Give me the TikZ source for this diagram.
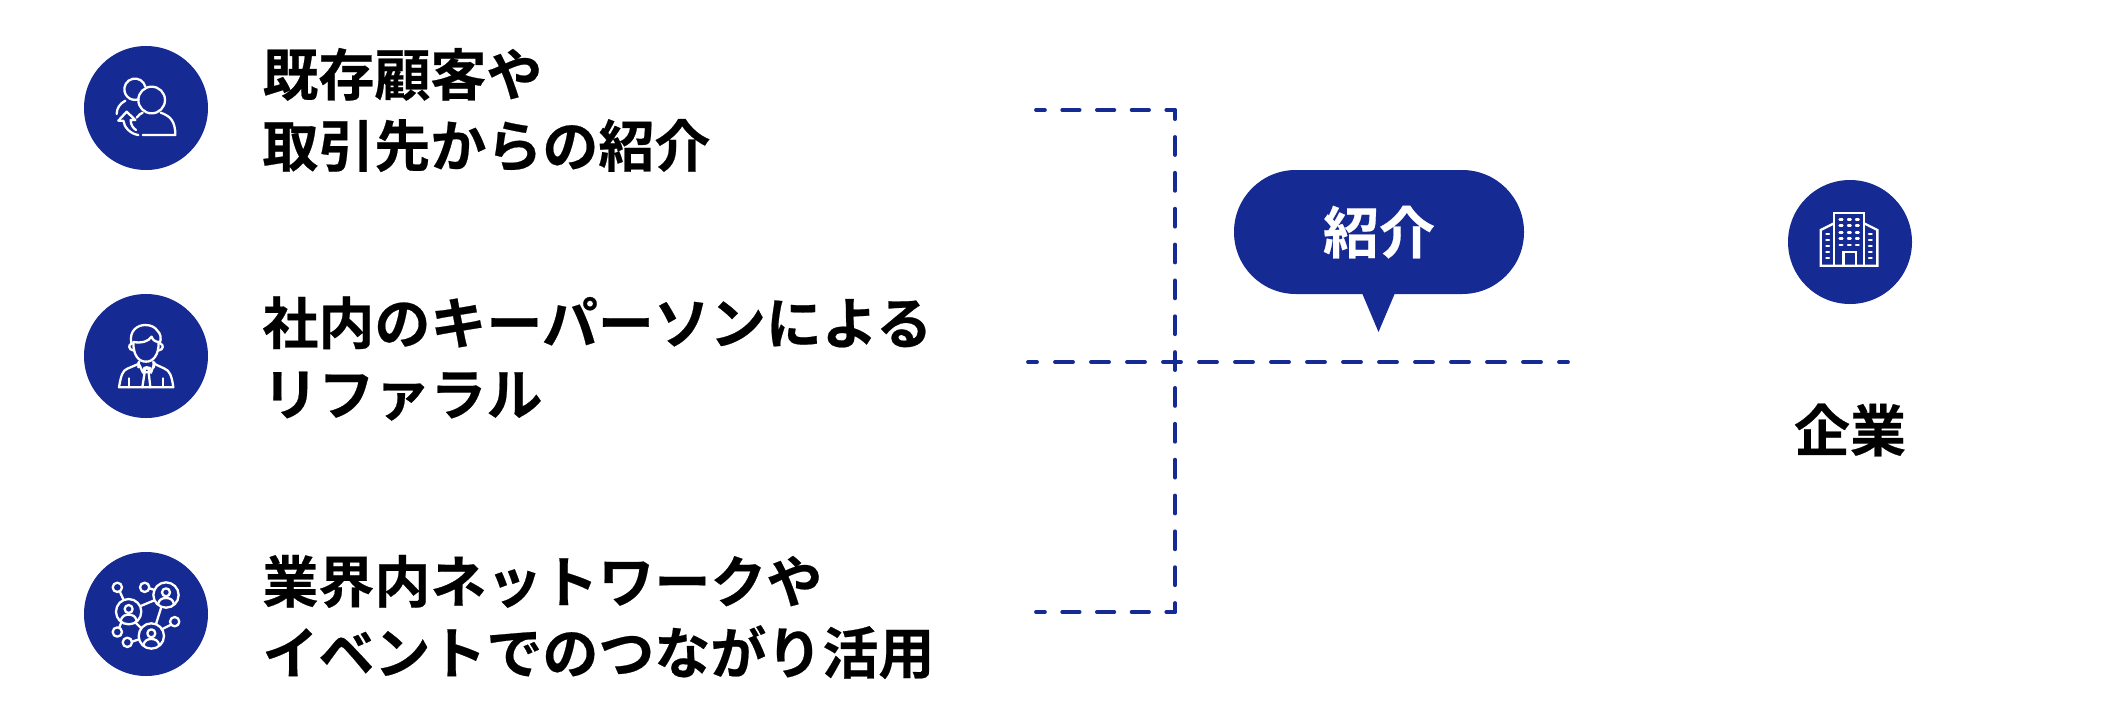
\documentclass[tikz,border=0pt]{standalone}
\usepackage{fontspec}
\setmainfont{Noto Sans CJK JP}[BoldFont={Noto Sans CJK JP Bold},BoldFeatures={FakeBold=0.4}]
\definecolor{navy}{HTML}{162A93}
\tikzset{
  x=0.5pt,y=-0.5pt,
  disc/.style={circle,fill=navy,draw=none,minimum size=62pt,inner sep=0pt},
  lbl/.style={anchor=west,align=left,inner sep=0pt,font=\bfseries\fontsize{28pt}{35.6pt}\selectfont,text=black},
  headlbl/.style={inner sep=0pt,font=\bfseries\fontsize{28pt}{33pt}\selectfont},
  dline/.style={draw=navy,line width=1.9pt,line cap=round},
  dashA/.style={dash pattern=on 9pt off 8.925pt,dash phase=4.5pt},
  dashB/.style={dash pattern=on 8.7pt off 8.65pt,dash phase=4.35pt},
  dashC/.style={dash pattern=on 9pt off 9pt,dash phase=4.5pt},
  ico/.style={draw=white,line width=1.15pt,line cap=round,line join=round},
  win/.style={draw=white,line width=1.2pt,line cap=round},
  zoomA/.style={shift={(70,30)},x=0.16667pt,y=-0.16667pt},
  zoomB/.style={shift={(70,280)},x=0.16667pt,y=-0.16667pt},
  zoomC/.style={shift={(70,540)},x=0.16667pt,y=-0.16667pt},
  zoomD/.style={shift={(1770,170)},x=0.16667pt,y=-0.16667pt},
}
\begin{document}
\begin{tikzpicture}
\useasboundingbox (0,0) rectangle (2104,724);
% discs
\node[disc] (d1) at (146,108) {};
\node[disc] (d2) at (146,356) {};
\node[disc] (d3) at (146,614) {};
\node[disc] (d4) at (1850,242) {};
% labels
\node[lbl] (t1) at (262,110) {既存顧客や\\取引先からの紹介};
\node[lbl] (t2) at (262,358.5) {社内のキーパーソンによる\\リファラル};
\node[lbl] (t3) at (262,617) {業界内ネットワークや\\イベントでのつながり活用};
\node[headlbl] (t4) at (1850,430) {企業};
% bubble
\fill[navy,rounded corners=30.9pt] (1234,170) rectangle (1524,294);
\fill[navy] (1362,293) -- (1395,293) -- (1378.5,332) -- cycle;
\node[headlbl,text=white] (b) at (1379,232) {紹介};
% dashed lines
\coordinate (a1) at (1036,110);
\coordinate (a2) at (1175,110);
\coordinate (a3) at (1175,612);
\coordinate (a4) at (1036,612);
\coordinate (h1) at (1028,362);
\coordinate (h2) at (1568,362);
\draw[dline,dashB] (a2) -- (a1);
\draw[dline,dashB] (a3) -- (a4);
\draw[dline,dashA] (a3) -- (a2);
\draw[dline,dashC] (h1) -- (h2);
% icon 1
\begin{scope}[zoomA]
\draw[ico] (226,170) arc[start angle=-14,end angle=-290,radius=32];
\draw[ico] (245,210) circle[radius=40];
\draw[ico] (200,263) .. controls (205,255) and (212,251) .. (218,248);
\draw[ico] (272,248) .. controls (300,258) and (316,272) .. (316,315) -- (218,315);
\draw[ico] (166,212) .. controls (150,220) and (140,235) .. (140,252);
\draw[ico] (145,272) -- (170,245) -- (196,270) -- (182,270) .. controls (182,285) and (190,295) .. (198,300);
\draw[ico] (145,272) -- (160,272) .. controls (162,292) and (182,312) .. (205,315);
\end{scope}
% icon 2
\begin{scope}[zoomB]
\draw[ico] (190,188) .. controls (190,225) and (205,245) .. (228,245) .. controls (250,245) and (266,225) .. (266,188);
\draw[ico] (184,190) .. controls (176,150) and (205,135) .. (225,135) .. controls (245,135) and (255,142) .. (262,152) .. controls (272,160) and (274,175) .. (270,188);
\draw[ico] (190,186) .. controls (215,190) and (235,185) .. (245,170) .. controls (248,180) and (256,186) .. (268,186);
\draw[ico] (186,191) .. controls (174,192) and (174,210) .. (192,212);
\draw[ico] (270,191) .. controls (282,192) and (282,210) .. (264,212);
\draw[ico] (207,245) -- (205,262);
\draw[ico] (250,245) -- (252,262);
\draw[ico] (205,248) -- (219,278) -- (230,262) -- (243,278) -- (254,248);
\draw[ico] (205,252) -- (172,266) .. controls (158,272) and (153,285) .. (147,322) -- (310,322) .. controls (305,285) and (298,272) .. (284,266) -- (254,252);
\draw[ico] (176,295) -- (176,322);
\draw[ico] (280,295) -- (280,322);
\draw[ico] (222,264) -- (230,262) -- (240,264) -- (236,277) -- (225,277) -- cycle;
\draw[ico] (224,277) -- (217,322);
\draw[ico] (236,277) -- (241,322);
\end{scope}
% icon 3
\begin{scope}[zoomC]
\foreach \cx/\cy in {176/215,288/165,244/288}{
  \draw[ico] (\cx,\cy) circle[radius=38];
  \draw[ico] (\cx,\cy-8) circle[radius=12];
  \draw[ico] (\cx-24,\cy+27) .. controls (\cx-20,\cy+12) and (\cx-10,\cy+9) .. (\cx,\cy+9) .. controls (\cx+10,\cy+9) and (\cx+20,\cy+12) .. (\cx+24,\cy+27);
}
\foreach \cx/\cy in {142/142,224/142,314/245,142/276,172/307}{
  \draw[ico] (\cx,\cy) circle[radius=14];
}
\draw[ico] (149,154) -- (161,180);
\draw[ico] (238,145) -- (254,150);
\draw[ico] (212,198) -- (253,181);
\draw[ico] (274,201) -- (258,252);
\draw[ico] (196,247) -- (214,265);
\draw[ico] (186,305) -- (207,298);
\draw[ico] (148,263) -- (154,246);
\draw[ico] (303,254) -- (275,268);
\end{scope}
% icon 4
\begin{scope}[zoomD]
\draw[ico,line cap=butt,line join=miter] (192,287) -- (192,128) -- (282,128) -- (282,287);
\draw[ico,line cap=butt,line join=miter] (192,160) -- (152,180) -- (152,287) -- (322,287) -- (322,180) -- (282,160);
\draw[ico,line cap=butt,line join=miter] (220,287) -- (220,245) -- (257,245) -- (257,287);
\foreach \wy in {148,167,187,206,225}{
  \foreach \wx in {213,238,262}{
    \draw[win] (\wx-4,\wy) -- (\wx+4,\wy);
  }
}
\foreach \wy in {192,210,228,246,264}{
  \foreach \wx in {173,301}{
    \draw[win] (\wx-4,\wy) -- (\wx+4,\wy);
  }
}
\end{scope}
\end{tikzpicture}
\end{document}
